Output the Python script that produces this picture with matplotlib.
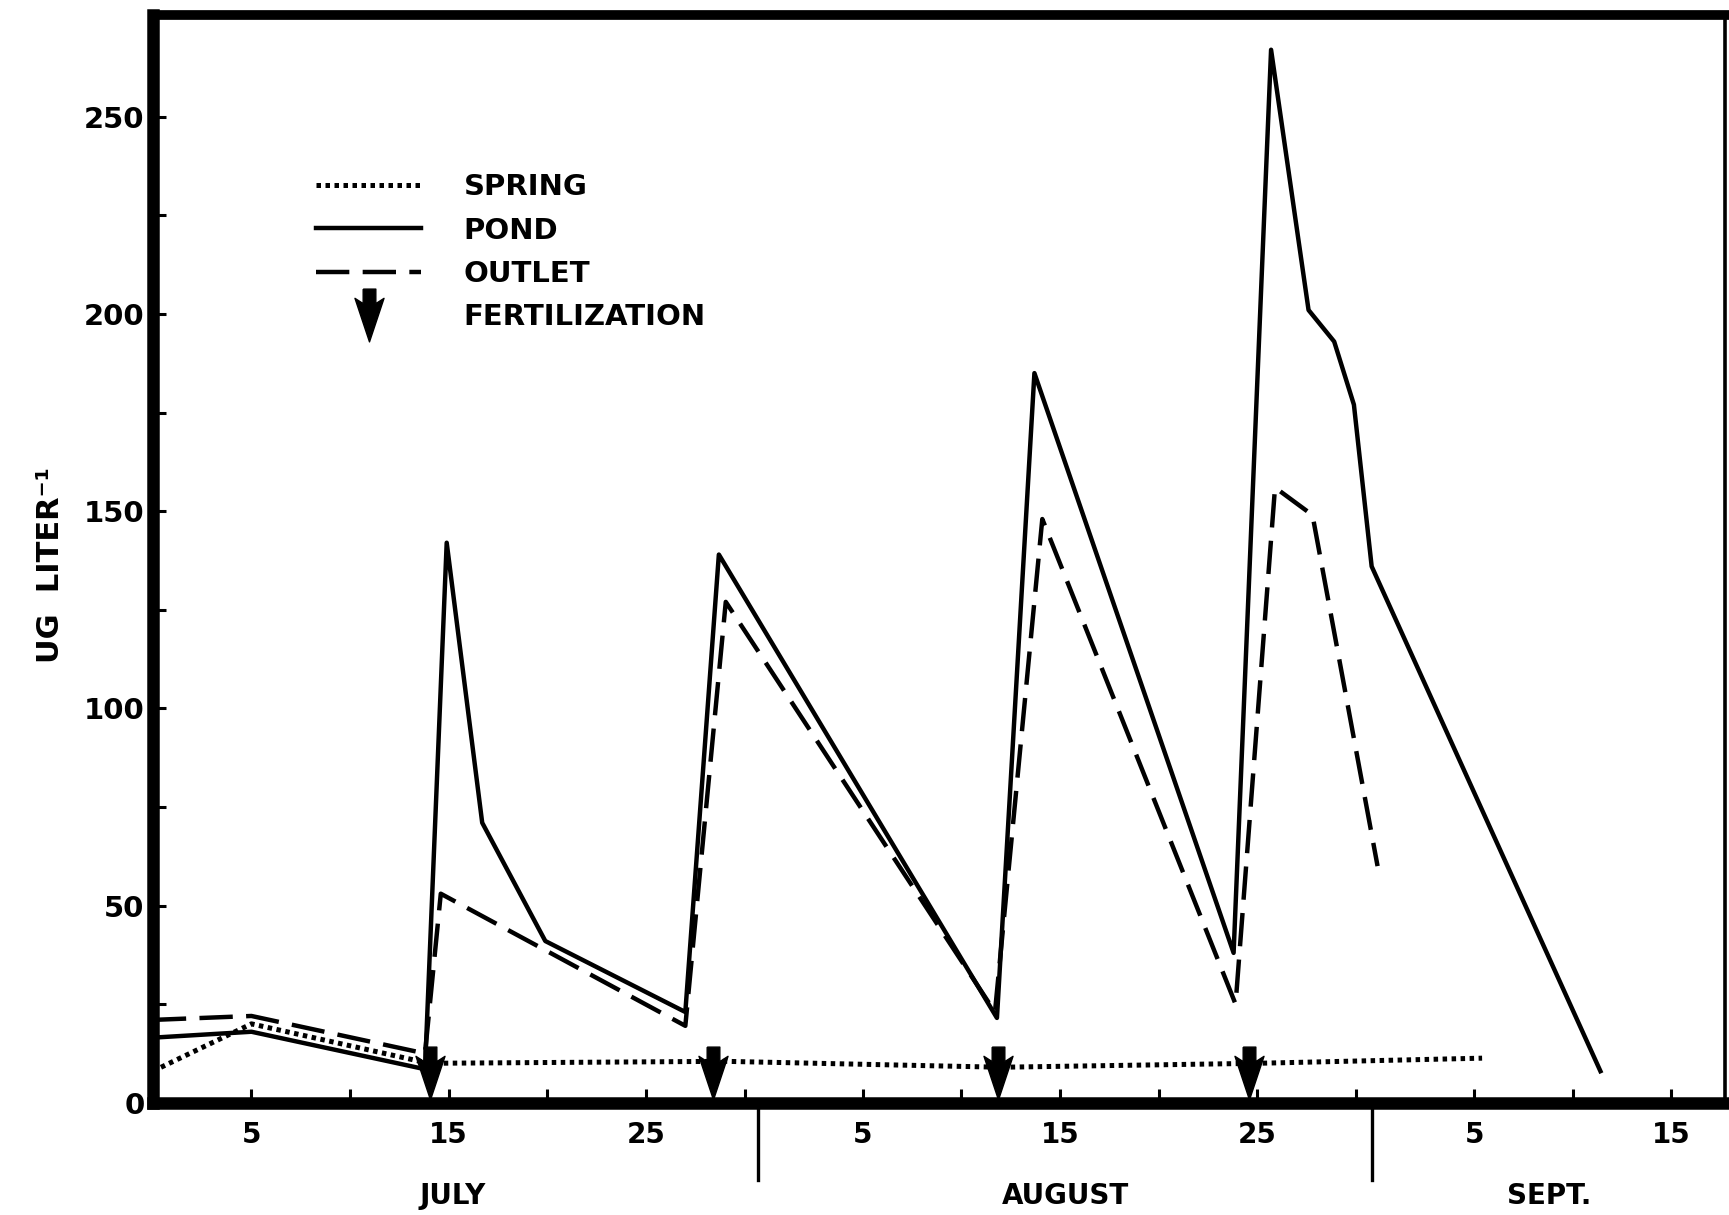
import numpy as np
import matplotlib.pyplot as plt
import matplotlib.transforms as mtransforms
from matplotlib.path import Path
from matplotlib.lines import Line2D

# days counted from June 30 (July 1 = day 1)
pond_day = [0, 5, 13.8, 14.9, 16.7, 19.9, 27.0, 28.7, 42.8, 44.7, 54.8, 56.7, 58.6, 59.9, 60.9, 61.8, 73.4]
pond_val = [16.5, 18, 8.5, 142, 71, 41, 23, 139, 21.5, 185, 38, 267, 201, 193, 177, 136, 8]

outlet_day = [0, 5, 13.8, 14.6, 27.0, 29.05, 42.7, 45.1, 54.9, 56.9, 58.8, 62.1]
outlet_val = [21, 22, 12.5, 53, 19.5, 127, 23, 148, 25, 156, 149, 60]

spring_day = [0, 5, 14, 29, 43, 56, 67.4]
spring_val = [8, 20, 10, 10.5, 9, 10, 11.3]

fert_day = [14.05, 28.4, 42.85, 55.6]

xtick_days = [5, 10, 15, 20, 25, 30, 36, 41, 46, 51, 56, 61, 67, 72, 77]
xtick_labels = ['5', '', '15', '', '25', '', '5', '', '15', '', '25', '', '5', '', '15']
month_names = ['JULY', 'AUGUST', 'SEPT.']
month_center = [15.2, 46.3, 70.8]
month_breaks = [30.7, 61.8]

plt.rcParams['font.family'] = ['DejaVu Sans']
plt.rcParams['font.weight'] = 'bold'

# arrow marker for fertilization
arrow = Path([(-0.24, 1), (0.24, 1), (0.24, 0.45), (0.55, 0.65), (0, -1),
              (-0.55, 0.65), (-0.24, 0.45), (-0.24, 1)])

fig = plt.figure(figsize=(17.29, 12.15), dpi=100)
ax = fig.add_axes([0.0884, 0.0924, 0.9091, 0.8949])

ax.plot(pond_day, pond_val, color='black', lw=3.2)
ax.plot(outlet_day, outlet_val, color='black', lw=3.2, linestyle=(0, (7.5, 3.0)))
ax.plot(spring_day, spring_val, color='black', lw=3.6, linestyle=(0, (0.9, 0.9)))
ax.plot(fert_day, [7.5] * len(fert_day), linestyle='none', marker=arrow,
        markersize=38, color='black')

ax.set_xlim(0, 79.7)
ax.set_ylim(0, 275.7)

ax.set_xticks(xtick_days)
ax.set_xticklabels(xtick_labels)
ax.set_yticks(np.arange(0, 251, 50))
ax.set_yticks(np.arange(25, 251, 50), minor=True)
ax.tick_params(axis='x', direction='in', length=10, width=2.2, pad=13, labelsize=20)
ax.tick_params(axis='y', which='both', direction='in', length=9, width=2.2, pad=6, labelsize=21)

for side, w in [('left', 9), ('bottom', 9), ('top', 7), ('right', 2.6)]:
    ax.spines[side].set_linewidth(w)
    ax.spines[side].set_capstyle('projecting')

trans = mtransforms.blended_transform_factory(ax.transData, ax.transAxes)
for d in month_breaks:
    ax.plot([d, d], [0, -0.071], transform=trans, color='black', lw=2.4, clip_on=False)
for name, d in zip(month_names, month_center):
    ax.text(d, -0.086, name, transform=trans, ha='center', va='center', fontsize=20)

fig.text(0.029, 0.535, 'UG  LITER\u207b\u00b9', rotation=90, ha='center', va='center', fontsize=22)

handles = [Line2D([], [], color='black', lw=3.6, linestyle=(0, (0.9, 0.9))),
           Line2D([], [], color='black', lw=3.2),
           Line2D([], [], color='black', lw=3.2, linestyle=(0, (7.5, 3.0))),
           Line2D([], [], linestyle='none', marker=arrow, markersize=38, color='black')]
labels = ['SPRING', 'POND', 'OUTLET', 'FERTILIZATION']
ax.legend(handles, labels, loc='upper left', bbox_to_anchor=(0.104, 0.855), frameon=False,
          fontsize=21, handlelength=3.6, handletextpad=1.45, labelspacing=0.53,
          borderpad=0, borderaxespad=0)

fig.savefig('out.png', dpi=100)
